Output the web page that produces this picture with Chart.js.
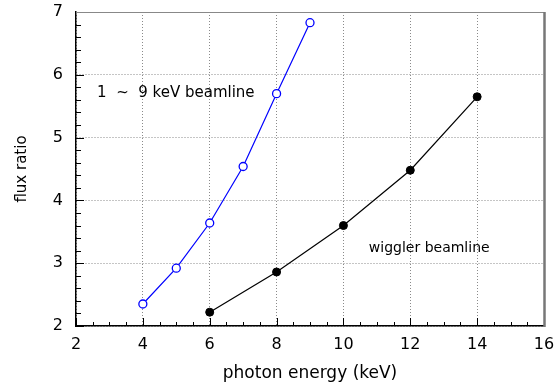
<!DOCTYPE html>
<html>
<head>
<meta charset="utf-8">
<script src="https://cdn.jsdelivr.net/npm/chart.js@4.4.1/dist/chart.umd.min.js"></script>
<style>
  html, body { margin: 0; padding: 0; background: #fff; }
  #wrap { width: 560px; height: 384px; }
</style>
</head>
<body>
<div id="wrap"><canvas id="fluxChart" width="560" height="384"></canvas></div>
<script>
// Datos
const energyBeamline = [4, 5, 6, 7, 8, 9];
const fluxBeamline = [2.35, 2.92, 3.64, 4.54, 5.70, 6.83];
const energyWiggler = [6, 8, 10, 12, 14];
const fluxWiggler = [2.22, 2.86, 3.60, 4.48, 5.65];

const xTicks = [2, 4, 6, 8, 10, 12, 14, 16];
const yTicks = [2, 3, 4, 5, 6, 7];

const labelBeamline = '1  ~  9 keV beamline';
const labelWiggler = 'wiggler beamline';
const xTitle = 'photon energy (keV)';
const yTitle = 'flux ratio';

const FONT = 'DejaVu Sans';

// Marcas interiores, marco y textos dentro del gráfico
const framePlugin = {
    id: 'frame',
    afterDraw(chart) {
        const { ctx, chartArea: a, scales: { x, y } } = chart;
        ctx.save();
        ctx.strokeStyle = '#000';
        ctx.lineWidth = 1;
        ctx.beginPath();
        // ticks menores en x (cada 0.5) y mayores
        for (let i = 0; i <= 28; i++) {
            const v = 2 + i * 0.5;
            const px = Math.round(x.getPixelForValue(v)) + 0.5;
            const len = i % 4 === 0 ? 8 : 4;
            ctx.moveTo(px, a.bottom);
            ctx.lineTo(px, a.bottom - len);
        }
        // ticks menores en y (cada 0.2)
        for (let i = 0; i <= 25; i++) {
            const v = 2 + i * 0.2;
            const py = Math.round(y.getPixelForValue(v)) + 0.5;
            const len = i % 5 === 0 ? 8 : 5;
            ctx.moveTo(a.left, py);
            ctx.lineTo(a.left + len, py);
        }
        ctx.stroke();

        // borde superior y derecho
        ctx.strokeStyle = '#888';
        ctx.beginPath();
        ctx.moveTo(a.left, a.top + 0.5);
        ctx.lineTo(a.right, a.top + 0.5);
        ctx.stroke();
        ctx.lineWidth = 2.5;
        ctx.strokeStyle = '#777';
        ctx.beginPath();
        ctx.moveTo(a.right + 0.5, a.top);
        ctx.lineTo(a.right + 0.5, a.bottom + 1);
        ctx.stroke();

        // textos
        ctx.fillStyle = '#000';
        ctx.textBaseline = 'middle';
        ctx.textAlign = 'left';
        ctx.font = '15px "' + FONT + '"';
        ctx.fillText(labelBeamline, x.getPixelForValue(2.63), y.getPixelForValue(5.71));
        ctx.font = '14px "' + FONT + '"';
        ctx.fillText(labelWiggler, x.getPixelForValue(10.76), y.getPixelForValue(3.24));
        ctx.restore();
    }
};

const ctx = document.getElementById('fluxChart').getContext('2d');
const fluxChart = new Chart(ctx, {
    type: 'scatter',
    data: {
        datasets: [
            {
                label: labelBeamline,
                data: energyBeamline.map((e, i) => ({ x: e, y: fluxBeamline[i] })),
                showLine: true,
                borderColor: '#0000ff',
                borderWidth: 1.2,
                pointRadius: 4,
                pointBorderWidth: 1.3,
                pointBackgroundColor: '#ffffff',
                pointBorderColor: '#0000ff'
            },
            {
                label: labelWiggler,
                data: energyWiggler.map((e, i) => ({ x: e, y: fluxWiggler[i] })),
                showLine: true,
                borderColor: '#000000',
                borderWidth: 1.2,
                pointRadius: 4,
                pointBorderWidth: 1,
                pointBackgroundColor: '#000000',
                pointBorderColor: '#000000'
            }
        ]
    },
    options: {
        responsive: false,
        animation: false,
        devicePixelRatio: 1,
        layout: {
            padding: { top: 12, right: 16, left: 0, bottom: 0 }
        },
        plugins: {
            legend: { display: false },
            tooltip: { enabled: false }
        },
        scales: {
            x: {
                type: 'linear',
                min: 2,
                max: 16,
                afterBuildTicks: (axis) => { axis.ticks = xTicks.map(v => ({ value: v })); },
                afterFit: (axis) => {
                    axis.height = 58;
                    axis.paddingLeft = 0;
                    axis.paddingRight = 0;
                },
                grid: {
                    color: '#8a8a8a',
                    lineWidth: 1,
                    drawTicks: false
                },
                border: { display: true, color: '#000', width: 1.5, dash: [1, 2] },
                ticks: {
                    color: '#000',
                    padding: 9,
                    font: { family: FONT, size: 16 }
                },
                title: {
                    display: true,
                    text: xTitle,
                    color: '#000',
                    padding: { top: 10, bottom: 0 },
                    font: { family: FONT, size: 17 }
                }
            },
            y: {
                type: 'linear',
                min: 2,
                max: 7,
                afterBuildTicks: (axis) => { axis.ticks = yTicks.map(v => ({ value: v })); },
                afterFit: (axis) => {
                    axis.width = 76;
                    axis.paddingTop = 0;
                    axis.paddingBottom = 0;
                },
                grid: {
                    color: '#8a8a8a',
                    lineWidth: 1,
                    drawTicks: false
                },
                border: { display: true, color: '#000', width: 1.5, dash: [1, 2] },
                ticks: {
                    color: '#000',
                    padding: 13,
                    font: { family: FONT, size: 16 }
                },
                title: {
                    display: true,
                    text: yTitle,
                    color: '#000',
                    padding: { top: 13, bottom: 4 },
                    font: { family: FONT, size: 15 }
                }
            }
        }
    },
    plugins: [framePlugin]
});
</script>
</body>
</html>
